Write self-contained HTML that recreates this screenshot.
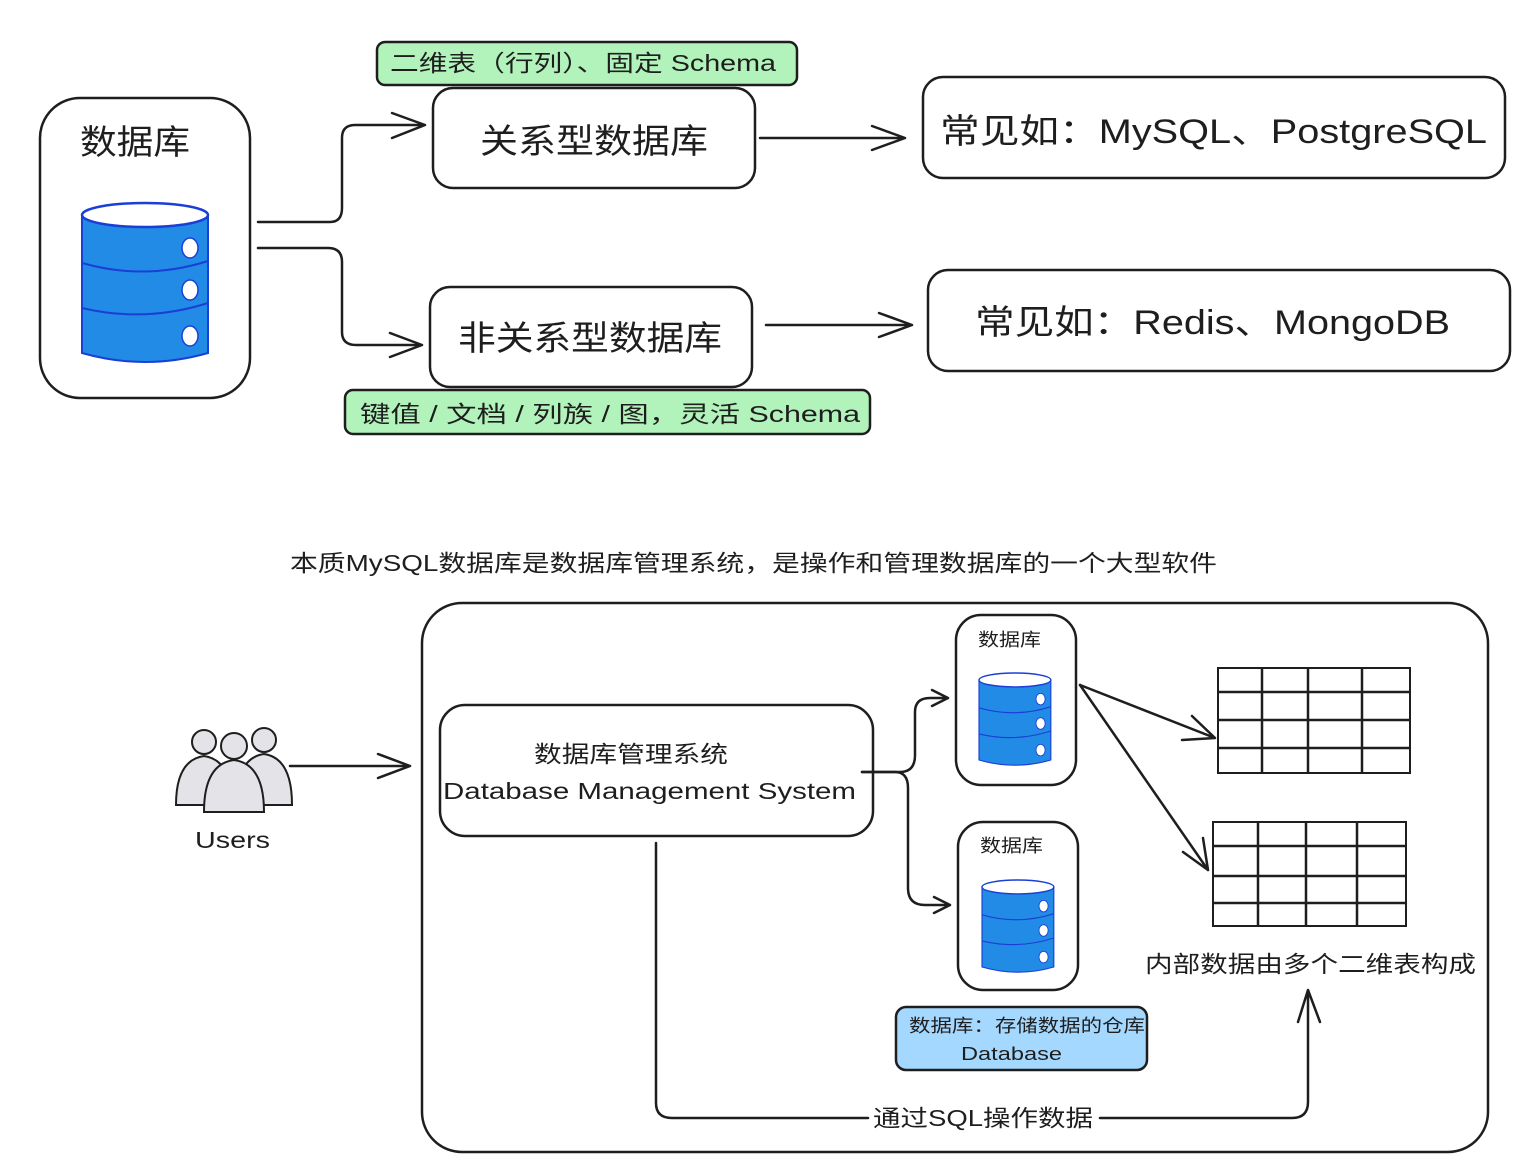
<!DOCTYPE html>
<html><head><meta charset="utf-8"><style>
html,body{margin:0;padding:0;background:#fff;}
svg{display:block;}
text{font-family:"Liberation Sans","Noto Sans CJK SC",sans-serif;fill:#1e1e1e;}
</style></head><body>
<svg width="1531" height="1174" viewBox="0 0 1531 1174" xmlns="http://www.w3.org/2000/svg">
<defs>
<g id="cyl">
<path d="M0,12 L0,150 Q63,168 126,150 L126,12" fill="#228be6" stroke="#1a3fd6" stroke-width="2"/>
<ellipse cx="63" cy="12" rx="63" ry="12" fill="#fff" stroke="#1a3fd6" stroke-width="2.5"/>
<path d="M0,60 Q63,78 126,58 M0,105 Q63,120 126,100" fill="none" stroke="#1a3fd6" stroke-width="2"/>
<ellipse cx="108" cy="45" rx="8" ry="10" fill="#fff" stroke="#1a3fd6" stroke-width="1.5"/>
<ellipse cx="108" cy="87" rx="8" ry="10" fill="#fff" stroke="#1a3fd6" stroke-width="1.5"/>
<ellipse cx="108" cy="133" rx="8" ry="10" fill="#fff" stroke="#1a3fd6" stroke-width="1.5"/>
</g>
</defs>
<g fill="none" stroke="#1e1e1e" stroke-width="2.5" stroke-linecap="round" stroke-linejoin="round">
<rect x="40" y="98" width="210" height="300" rx="40" fill="#fff"/>
<path d="M258,222 L330,222 Q342,222 342,208 L342,138 Q342,125 355,125 L425,125 M392,113 L425,125 L392,138"/>
<path d="M258,248 L328,248 Q342,248 342,262 L342,332 Q342,345 356,345 L422,345 M390,333 L422,345 L390,357"/>
<rect x="377" y="42" width="420" height="43" rx="8" fill="#b2f2bb"/>
<rect x="433" y="88" width="322" height="100" rx="20" fill="#fff"/>
<path d="M760,138 L905,138 M872,126 L905,138 L872,150"/>
<rect x="923" y="77" width="582" height="101" rx="20" fill="#fff"/>
<rect x="430" y="287" width="322" height="100" rx="20" fill="#fff"/>
<rect x="345" y="390" width="525" height="44" rx="8" fill="#b2f2bb"/>
<path d="M766,325 L912,325 M879,313 L912,325 L879,337"/>
<rect x="928" y="270" width="582" height="101" rx="20" fill="#fff"/>
<rect x="422" y="603" width="1066" height="549" rx="40"/>
<path d="M290,766 L410,766 M378,754 L410,766 L378,778"/>
<rect x="440" y="705" width="433" height="131" rx="25" fill="#fff"/>
<rect x="956" y="615" width="120" height="170" rx="25" fill="#fff"/>
<rect x="958" y="822" width="120" height="168" rx="25" fill="#fff"/>
<path d="M862,772 L900,772 Q915,772 915,755 L915,712 Q915,698 930,698 L948,698 M932,690 L948,698 L932,706"/>
<path d="M862,772 L895,772 Q908,772 908,788 L908,888 Q908,905 925,905 L950,905 M934,897 L950,905 L934,913"/>
<path d="M1080,685 L1215,738 M1182,740 L1215,738 L1192,716"/>
<path d="M1080,685 L1208,870 M1183,852 L1208,870 L1203,838"/>
<rect x="896" y="1007" width="251" height="63" rx="10" fill="#a5d8ff"/>
<path d="M656,843 L656,1103 Q656,1118 672,1118 L868,1118 M1100,1118 L1292,1118 Q1308,1118 1308,1102 L1308,990 M1298,1022 L1308,990 L1320,1022"/>
</g>
<g stroke="#1e1e1e" stroke-width="2" fill="none">
<rect x="1218" y="668" width="192" height="105"/>
<path d="M1218,692 H1410 M1218,720 H1410 M1218,748 H1410 M1262,668 V773 M1308,668 V773 M1362,668 V773" stroke-width="2.5"/>
<rect x="1213" y="822" width="193" height="104"/>
<path d="M1213,846 H1406 M1213,876 H1406 M1213,903 H1406 M1258,822 V926 M1306,822 V926 M1357,822 V926" stroke-width="2.5"/>
</g>
<use href="#cyl" x="82" y="203"/>
<use href="#cyl" transform="translate(979,673) scale(0.57,0.58)"/>
<use href="#cyl" transform="translate(982,880) scale(0.57,0.58)"/>
<g stroke="#1e1e1e" stroke-width="2" fill="#e4e4e8">
<circle cx="204" cy="742" r="12"/><circle cx="264" cy="740" r="12"/>
<path d="M176,805 Q176,760 204,756 Q232,760 232,805 Z"/>
<path d="M236,805 Q236,758 264,754 Q292,758 292,805 Z"/>
<circle cx="234" cy="746" r="13"/>
<path d="M204,812 Q204,764 234,760 Q264,764 264,812 Z"/>
</g>
<g style="font-size:23px">
<text x="80" y="154" font-size="34" textLength="110" lengthAdjust="spacingAndGlyphs">数据库</text>
<text x="480" y="153" font-size="34" textLength="228" lengthAdjust="spacingAndGlyphs">关系型数据库</text>
<text x="458" y="350" font-size="34" textLength="264" lengthAdjust="spacingAndGlyphs">非关系型数据库</text>
<text x="390" y="71" font-size="23" textLength="386" lengthAdjust="spacingAndGlyphs">二维表（行列）、固定 Schema</text>
<text x="360" y="422" font-size="23" textLength="500" lengthAdjust="spacingAndGlyphs">键值 / 文档 / 列族 / 图，灵活 Schema</text>
<text x="940" y="143" font-size="34" textLength="547" lengthAdjust="spacingAndGlyphs">常见如：MySQL、PostgreSQL</text>
<text x="975" y="334" font-size="34" textLength="475" lengthAdjust="spacingAndGlyphs">常见如：Redis、MongoDB</text>
<text x="290" y="571" font-size="23" textLength="927" lengthAdjust="spacingAndGlyphs">本质MySQL数据库是数据库管理系统，是操作和管理数据库的一个大型软件</text>
<text x="195" y="848" font-size="23" textLength="75" lengthAdjust="spacingAndGlyphs">Users</text>
<text x="534" y="762" font-size="23" textLength="194" lengthAdjust="spacingAndGlyphs">数据库管理系统</text>
<text x="443" y="799" font-size="23" textLength="413" lengthAdjust="spacingAndGlyphs">Database Management System</text>
<text x="978" y="646" font-size="18" textLength="63" lengthAdjust="spacingAndGlyphs">数据库</text>
<text x="980" y="852" font-size="18" textLength="63" lengthAdjust="spacingAndGlyphs">数据库</text>
<text x="1145" y="972" font-size="23" textLength="331" lengthAdjust="spacingAndGlyphs">内部数据由多个二维表构成</text>
<text x="909" y="1032" font-size="18" textLength="236" lengthAdjust="spacingAndGlyphs">数据库：存储数据的仓库</text>
<text x="961" y="1060" font-size="18" textLength="101" lengthAdjust="spacingAndGlyphs">Database</text>
<text x="873" y="1126" font-size="23" textLength="220" lengthAdjust="spacingAndGlyphs">通过SQL操作数据</text>
</g>
</svg>
</body></html>
